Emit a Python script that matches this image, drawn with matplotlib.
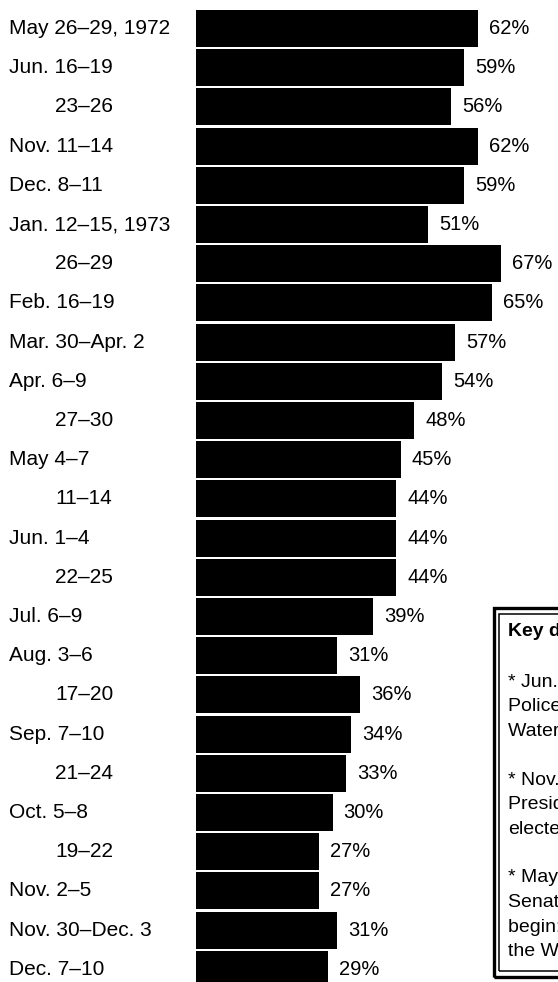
import matplotlib
matplotlib.use("Agg")
import matplotlib.pyplot as plt
from matplotlib.patches import Rectangle

plt.rcParams['font.family'] = ['Liberation Sans', 'DejaVu Sans']

# poll dates, approval of Nixon
labels = ["May 26–29, 1972", "Jun. 16–19", "23–26", "Nov. 11–14", "Dec. 8–11",
          "Jan. 12–15, 1973", "26–29", "Feb. 16–19", "Mar. 30–Apr. 2", "Apr. 6–9",
          "27–30", "May 4–7", "11–14", "Jun. 1–4", "22–25", "Jul. 6–9", "Aug. 3–6",
          "17–20", "Sep. 7–10", "21–24", "Oct. 5–8", "19–22", "Nov. 2–5",
          "Nov. 30–Dec. 3", "Dec. 7–10"]
values = [62, 59, 56, 62, 59, 51, 67, 65, 57, 54, 48, 45, 44, 44, 44, 39, 31,
          36, 34, 33, 30, 27, 27, 31, 29]
indented = [False, False, True, False, False, False, True, False, False, False,
            True, False, True, False, True, False, False, True, False, True,
            False, True, False, False, False]

key_title = "Key dates"
key_lines = ["* Jun. 17, 1972", "Police arrest burglars at", "Watergate complex", "",
             "* Nov. 7, 1972", "President Nixon re-", "elected", "",
             "* May 17, 1973", "Senate Watergate hearings", "begin; probe of",
             "the White House"]

W, H = 558, 982
fig = plt.figure(figsize=(W / 100, H / 100), dpi=100)
ax = fig.add_axes([0, 0, 1, 1])

x0, px = 196, 4.55       # pixel of zero, pixels per percent
y0, dy = 28.5, 39.2      # first row centre, row pitch (pixels)
ax.set_xlim(-x0 / px, (W - x0) / px)
ax.set_ylim((H - y0) / dy, -y0 / dy)
ax.axis("off")

rows = list(range(len(labels)))
ax.barh(rows, values, height=0.94, color="black")

fs = 15
for i, (lab, v, ind) in enumerate(zip(labels, values, indented)):
    lx = (55 if ind else 9) - x0
    ax.text(lx / px, i, lab, ha="left", va="center", fontsize=fs)
    ax.annotate(f"{v}%", (v, i), xytext=(8, 0), textcoords="offset points",
                ha="left", va="center", fontsize=fs - 0.5)

# key box, double border, runs off the right edge
def fx(p): return p / W
def fy(p): return 1 - p / H

fig.patches.append(Rectangle((fx(493.5), fy(976.5)), fx(120), (977 - 608) / H,
                             transform=fig.transFigure, fill=False, lw=2.4,
                             ec="black"))
fig.patches.append(Rectangle((fx(499), fy(970.5)), fx(120), (970.5 - 613.5) / H,
                             transform=fig.transFigure, fill=False, lw=1.1,
                             ec="black"))
fig.text(fx(508), fy(631), key_title, fontsize=14, fontweight="bold",
         ha="left", va="center")
for k, line in enumerate(key_lines):
    if line:
        fig.text(fx(508), fy(682 + k * 24.5), line, fontsize=14,
                 ha="left", va="center")

fig.savefig("out.png", dpi=100)
